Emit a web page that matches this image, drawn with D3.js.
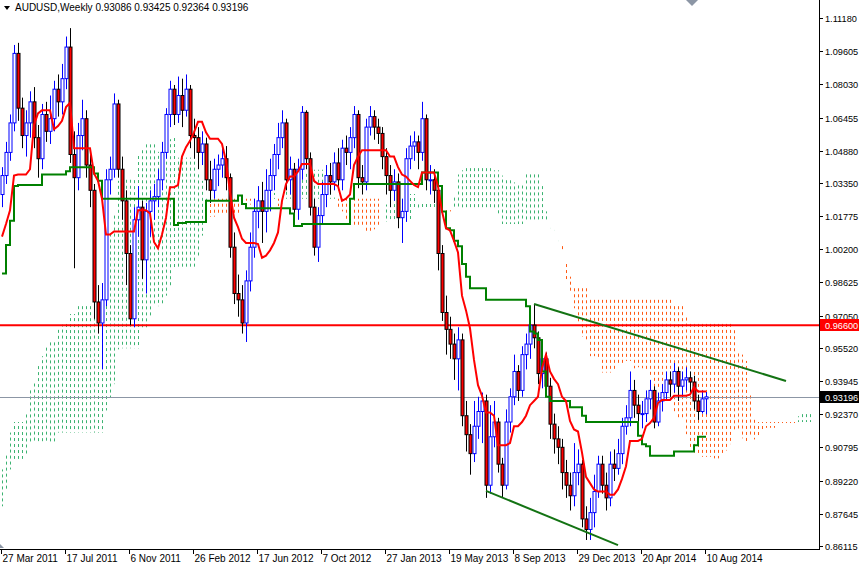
<!DOCTYPE html>
<html>
<head>
<meta charset="utf-8">
<title>AUDUSD Weekly</title>
<script src="https://d3js.org/d3.v7.min.js"></script>
<style>
  body { margin: 0; background: #fff; }
  text { font-family: "Liberation Sans", Arial, sans-serif; font-size: 10px; fill: #000; }
  .price { font-size: 9.2px; }
</style>
</head>
<body>
<svg width="859" height="566"></svg>
<script>
// weekly bars from 27 Mar 2011 (index 0) to 10 Aug 2014
const closes = [1.037,1.048,1.062,1.095,1.069,1.056,1.062,1.072,1.055,1.045,1.066,1.058,1.064,1.078,1.072,1.083,1.098,1.047,1.036,1.056,
  1.064,1.042,1.030,0.977,0.967,0.978,1.035,1.040,1.071,1.040,1.025,1.000,0.969,1.016,1.022,0.997,1.020,1.025,1.027,1.035,
  1.048,1.066,1.078,1.066,1.075,1.068,1.078,1.056,1.055,1.048,1.052,1.035,1.030,1.040,1.042,1.045,1.036,1.003,0.981,0.978,
  0.967,0.987,1.003,1.020,1.025,1.020,1.030,1.037,1.047,1.055,1.062,1.035,1.040,1.021,1.040,1.067,1.045,1.022,1.003,1.018,
  1.028,1.037,1.034,1.043,1.035,1.050,1.048,1.055,1.066,1.036,1.034,1.060,1.065,1.060,1.057,1.046,1.037,1.030,1.034,1.017,
  1.020,1.045,1.051,1.053,1.048,1.064,1.035,1.035,1.030,1.000,0.972,0.964,0.957,0.950,0.959,0.923,0.914,0.905,0.918,0.925,
  0.930,0.890,0.913,0.920,0.900,0.890,0.920,0.932,0.944,0.935,0.952,0.957,0.966,0.960,0.943,0.950,0.937,0.919,0.912,0.908,
  0.896,0.890,0.885,0.896,0.900,0.874,0.869,0.877,0.887,0.900,0.890,0.884,0.900,0.898,0.905,0.918,0.922,0.935,0.928,0.924,
  0.924,0.931,0.935,0.920,0.930,0.934,0.940,0.938,0.944,0.937,0.940,0.941,0.939,0.930,0.925,0.931,0.93196];
const highs = [1.041,1.053,1.066,1.099,1.100,1.074,1.068,1.077,1.079,1.061,1.071,1.072,1.075,1.082,1.085,1.090,1.103,1.107,1.058,1.062,
  1.073,1.068,1.047,1.033,0.985,0.986,1.040,1.046,1.076,1.073,1.046,1.030,1.004,1.022,1.032,1.025,1.024,1.030,1.033,1.040,
  1.053,1.069,1.082,1.080,1.084,1.083,1.085,1.080,1.064,1.060,1.058,1.055,1.044,1.045,1.047,1.052,1.051,1.038,1.010,0.990,
  0.985,0.992,1.010,1.026,1.032,1.034,1.040,1.045,1.052,1.062,1.068,1.064,1.046,1.043,1.045,1.070,1.068,1.048,1.026,1.022,
  1.034,1.042,1.043,1.048,1.050,1.054,1.056,1.060,1.070,1.068,1.042,1.064,1.070,1.068,1.064,1.060,1.050,1.042,1.040,1.038,
  1.026,1.050,1.056,1.058,1.056,1.072,1.066,1.042,1.040,1.034,1.004,0.980,0.970,0.962,0.965,0.962,0.930,0.919,0.930,0.932,
  0.934,0.933,0.928,0.930,0.922,0.903,0.926,0.936,0.952,0.947,0.956,0.962,0.972,0.976,0.963,0.955,0.953,0.941,0.924,0.918,
  0.912,0.902,0.896,0.910,0.907,0.902,0.880,0.884,0.895,0.904,0.904,0.896,0.906,0.907,0.912,0.922,0.928,0.944,0.940,0.933,
  0.930,0.935,0.940,0.937,0.934,0.938,0.944,0.944,0.948,0.946,0.944,0.946,0.944,0.942,0.933,0.935,0.93425];
const lows = [1.022,1.033,1.044,1.058,1.063,1.050,1.046,1.055,1.050,1.036,1.040,1.053,1.052,1.058,1.065,1.066,1.078,1.043,0.993,1.030,
  1.049,1.036,1.022,0.969,0.962,0.945,0.975,1.028,1.036,1.036,1.016,0.985,0.966,0.965,1.008,0.988,0.981,1.008,1.016,1.022,
  1.030,1.045,1.060,1.061,1.062,1.060,1.065,1.050,1.045,1.040,1.042,1.030,1.024,1.026,1.032,1.036,1.030,0.998,0.976,0.970,
  0.962,0.958,0.982,0.998,1.012,1.005,1.010,1.020,1.030,1.040,1.050,1.030,1.028,1.015,1.016,1.035,1.040,1.018,0.999,0.996,
  1.014,1.022,1.028,1.030,1.030,1.030,1.042,1.040,1.050,1.031,1.028,1.030,1.056,1.054,1.052,1.040,1.028,1.022,1.025,1.012,
  1.005,1.015,1.040,1.044,1.040,1.044,1.030,1.028,1.024,0.992,0.968,0.952,0.950,0.940,0.935,0.918,0.906,0.895,0.901,0.912,
  0.910,0.884,0.886,0.908,0.896,0.884,0.888,0.915,0.928,0.930,0.932,0.945,0.950,0.955,0.938,0.936,0.932,0.912,0.905,0.900,
  0.888,0.884,0.878,0.880,0.890,0.870,0.864,0.864,0.870,0.884,0.886,0.878,0.880,0.892,0.895,0.900,0.914,0.918,0.922,0.917,
  0.917,0.920,0.926,0.917,0.918,0.925,0.930,0.932,0.934,0.930,0.932,0.935,0.934,0.926,0.921,0.924,0.92364];
const firstOpen = 1.028;
// weeks before 27 Mar 2011, used only for the indicator look-back
const preHighs = [0.880,0.885,0.890,0.905,0.915,0.930,0.935,0.925,0.920,0.935,0.940,0.935,0.930,0.930,0.920,0.910,0.900,0.905,
  0.915,0.935,0.930,0.915,0.895,0.895,0.895,0.905,0.905,0.915,0.920,0.925,0.920,0.925,0.930,0.935,0.935,0.940,
  0.935,0.910,0.895,0.870,0.860,0.855,0.865,0.880,0.885,0.880,0.875,0.885,0.895,0.910,0.915,0.910,0.900,0.900,
  0.920,0.935,0.950,0.965,0.985,0.995,0.995,0.990,1.000,1.010,1.000,0.995,0.990,1.000,1.000,1.000,1.020,
  1.020,1.005,1.000,1.000,1.010,1.020,1.020,1.015,1.005,0.995,1.000];
const preLows = [0.860,0.865,0.870,0.880,0.895,0.905,0.910,0.900,0.905,0.910,0.915,0.915,0.905,0.905,0.895,0.885,0.875,0.880,
  0.895,0.905,0.910,0.880,0.875,0.865,0.870,0.885,0.880,0.895,0.905,0.910,0.905,0.910,0.910,0.920,0.920,0.920,
  0.895,0.870,0.855,0.810,0.830,0.830,0.840,0.860,0.855,0.850,0.860,0.865,0.880,0.890,0.895,0.885,0.880,0.880,
  0.890,0.910,0.925,0.940,0.955,0.970,0.975,0.965,0.975,0.985,0.980,0.970,0.965,0.980,0.980,0.980,0.990,
  0.990,0.985,0.980,0.985,0.985,0.995,0.995,0.995,0.975,0.975,0.980];

const priceTicks = [1.11180,1.09605,1.08030,1.06455,1.04880,1.03350,1.01775,1.00200,0.98625,0.97050,0.95520,0.93945,0.92370,0.90795,0.89220,0.87645,0.86115];
const dateTicks = [[0,"27 Mar 2011"],[16,"17 Jul 2011"],[32,"6 Nov 2011"],[48,"26 Feb 2012"],[64,"17 Jun 2012"],[80,"7 Oct 2012"],
  [96,"27 Jan 2013"],[112,"19 May 2013"],[128,"8 Sep 2013"],[144,"29 Dec 2013"],[160,"20 Apr 2014"],[176,"10 Aug 2014"]];
const levelLine = 0.96600;
const trendUpper = [[133,0.9760],[196,0.9395]];
const trendLower = [[121,0.8873],[154,0.8616]];

const svg = d3.select("svg");
const W = 819, H = 549;
const x = d3.scaleLinear().domain([0,1]).range([2,6]);
const y = d3.scaleLinear().domain([0.86115,1.11180]).range([546,18]);

const bars = closes.map((c,i)=>({i, o: i? closes[i-1] : firstOpen, h: highs[i], l: lows[i], c}));
const allH = preHighs.concat(highs), allL = preLows.concat(lows), off = preHighs.length;
function mid(end, n){ // end index in all arrays
  let hi = -Infinity, lo = Infinity;
  for (let k = end-n+1; k <= end; k++){ hi = Math.max(hi, allH[k]); lo = Math.min(lo, allL[k]); }
  return (hi+lo)/2;
}
const tenkan = (i)=>mid(i+off, 9), kijun = (i)=>mid(i+off, 26);
// cloud at bar j uses values from bar j-26
const cloud = d3.range(0, closes.length+26).map(j=>{
  const s = j-26;
  const a = (mid(s+off,9)+mid(s+off,26))/2, b = mid(s+off,52);
  return {j, a, b};
});

const plot = svg.append("g");
// cloud hatching
plot.selectAll("line.cloud").data(cloud).join("line")
  .attr("x1", d=>x(d.j)+0.5).attr("x2", d=>x(d.j)+0.5)
  .attr("y1", d=>y(Math.max(d.a,d.b))).attr("y2", d=>y(Math.min(d.a,d.b)))
  .attr("stroke", d=>d.a>=d.b ? "#3CB371" : "#FF5A14")
  .attr("stroke-width", 1).attr("stroke-dasharray","3,3")
  .attr("stroke-dashoffset", d=>Math.round(y(Math.max(d.a,d.b)))%6);

// horizontal levels
plot.append("line").attr("x1",0).attr("x2",W).attr("y1",y(levelLine)).attr("y2",y(levelLine))
  .attr("stroke","#FF0000").attr("stroke-width",2);
plot.append("line").attr("x1",0).attr("x2",W).attr("y1",Math.round(y(closes[closes.length-1]))+0.5).attr("y2",Math.round(y(closes[closes.length-1]))+0.5)
  .attr("stroke","#8C96A5").attr("stroke-width",1);

// candles
const cg = plot.append("g");
bars.forEach(d=>{
  const up = d.c >= d.o, cx = Math.round(x(d.i))+0.5;
  cg.append("line").attr("x1",cx).attr("x2",cx).attr("y1",y(d.h)).attr("y2",y(d.l))
    .attr("stroke", up ? "#0000FF" : "#000");
  const top = y(Math.max(d.o,d.c)), bot = y(Math.min(d.o,d.c));
  cg.append("rect").attr("x",cx-1.5).attr("y",top).attr("width",3).attr("height",Math.max(1,bot-top))
    .attr("fill", up ? "#fff" : "#FF0000").attr("stroke", up ? "#0000FF" : "#000").attr("stroke-width",1);
});

// ichimoku lines
const idx = d3.range(closes.length);
const ln = (f)=>d3.line().x(i=>x(i)).y(i=>y(f(i))).curve(d3.curveStepAfter);
plot.append("path").datum(idx).attr("d", ln(kijun)).attr("fill","none").attr("stroke","#008000").attr("stroke-width",2);
plot.append("path").datum(idx).attr("d", d3.line().x(i=>x(i)).y(i=>y(tenkan(i)))).attr("fill","none").attr("stroke","#FF0000").attr("stroke-width",2);

// trend lines
[trendUpper, trendLower].forEach(t=>{
  plot.append("line").attr("x1",x(t[0][0])).attr("y1",y(t[0][1])).attr("x2",x(t[1][0])).attr("y2",y(t[1][1]))
    .attr("stroke","#137313").attr("stroke-width",2);
});

// frame
svg.append("line").attr("x1",W+0.5).attr("x2",W+0.5).attr("y1",0).attr("y2",H).attr("stroke","#000");
svg.append("line").attr("x1",0).attr("x2",W+1).attr("y1",H+0.5).attr("y2",H+0.5).attr("stroke","#000");

// price axis
const pa = svg.append("g");
priceTicks.forEach(p=>{
  const yy = Math.round(y(p))+0.5;
  pa.append("line").attr("x1",W).attr("x2",W+4).attr("y1",yy).attr("y2",yy).attr("stroke","#000");
  pa.append("text").attr("class","price").attr("x",W+6).attr("y",yy+3.5).text(p.toFixed(5));
});
function tag(val, bg){
  const yy = Math.round(y(val));
  pa.append("rect").attr("x",W+1).attr("y",yy-6).attr("width",39).attr("height",12).attr("fill",bg);
  pa.append("text").attr("class","price").attr("x",W+6).attr("y",yy+3.5).style("fill","#fff").text(val.toFixed(5));
}
tag(levelLine, "#FF0000");
tag(closes[closes.length-1], "#000");

// date axis
const da = svg.append("g");
dateTicks.forEach(([i,lab])=>{
  const xx = Math.round(x(i))-0.5;
  da.append("line").attr("x1",xx).attr("x2",xx).attr("y1",H).attr("y2",H+5).attr("stroke","#000");
  da.append("text").attr("x",xx+1).attr("y",562).text(lab);
});

// header and markers
svg.append("path").attr("d","M4,6 L10,6 L7,10 Z").attr("fill","#000");
svg.append("text").attr("x",15).attr("y",11).text("AUDUSD,Weekly  0.93086 0.93425 0.92364 0.93196");
svg.append("path").attr("d","M686,0 L698,0 L692,6 Z").attr("fill","#8C96A5");
svg.append("path").attr("d","M0,544 L4,548 L0,548 Z").attr("fill","#8C96A5");
</script>
</body>
</html>
